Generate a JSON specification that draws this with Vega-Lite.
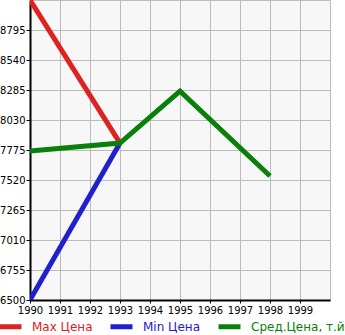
{
  "$schema": "https://vega.github.io/schema/vega-lite/v6.json",
  "width": 300,
  "height": 300,
  "autosize": {"type": "none"},
  "padding": {"left": 30, "top": 0, "right": 15, "bottom": 35},
  "config": {
    "font": "DejaVu Sans",
    "view": {"stroke": "#bbbbbb", "fill": "#f7f7f7"},
    "axis": {"gridColor": "#bbbbbb", "gridOpacity": 1, "domainColor": "#000000", "domainWidth": 2, "tickColor": "#000000", "labelColor": "#000000", "labelFontSize": 10, "labelFont": "DejaVu Sans"}
  },
  "data": {
    "values": [
      {"series": "Max Цена", "year": 1990, "price": 9050},
      {"series": "Max Цена", "year": 1993, "price": 7834},
      {"series": "Min Цена", "year": 1990, "price": 6500},
      {"series": "Min Цена", "year": 1993, "price": 7834},
      {"series": "Сред.Цена, т.йен", "year": 1990, "price": 7766},
      {"series": "Сред.Цена, т.йен", "year": 1993, "price": 7834},
      {"series": "Сред.Цена, т.йен", "year": 1995, "price": 8276},
      {"series": "Сред.Цена, т.йен", "year": 1998, "price": 7554}
    ]
  },
  "mark": {"type": "line", "strokeWidth": 5, "clip": true},
  "encoding": {
    "x": {
      "field": "year", "type": "quantitative",
      "scale": {"domain": [1990, 2000], "nice": false, "zero": false},
      "axis": {"title": null, "values": [1990,1991,1992,1993,1994,1995,1996,1997,1998,1999], "format": "d", "tickSize": 3, "labelPadding": 2, "labelFlush": false}
    },
    "y": {
      "field": "price", "type": "quantitative",
      "scale": {"domain": [6500, 9050], "nice": false, "zero": false},
      "axis": {"title": null, "values": [6500,6755,7010,7265,7520,7775,8030,8285,8540,8795], "format": "d", "tickSize": 4, "labelPadding": 1, "labelFlush": false}
    },
    "color": {
      "field": "series", "type": "nominal",
      "scale": {"domain": ["Max Цена", "Min Цена", "Сред.Цена, т.йен"], "range": ["#dd2222", "#2020cc", "#0a800a"]},
      "legend": {
        "title": null,
        "orient": "none",
        "legendX": -33,
        "legendY": 313,
        "direction": "horizontal",
        "symbolType": "stroke",
        "symbolSize": 484,
        "symbolStrokeWidth": 5,
        "labelFontSize": 12,
        "labelFont": "DejaVu Sans",
        "labelOffset": 8,
        "columnPadding": 7,
        "padding": 0,
        "labelLimit": 300,
        "labelBaseline": "middle",
        "encode": {
          "labels": {"update": {"fill": {"scale": "color", "field": "value"}}}
        }
      }
    }
  }
}
